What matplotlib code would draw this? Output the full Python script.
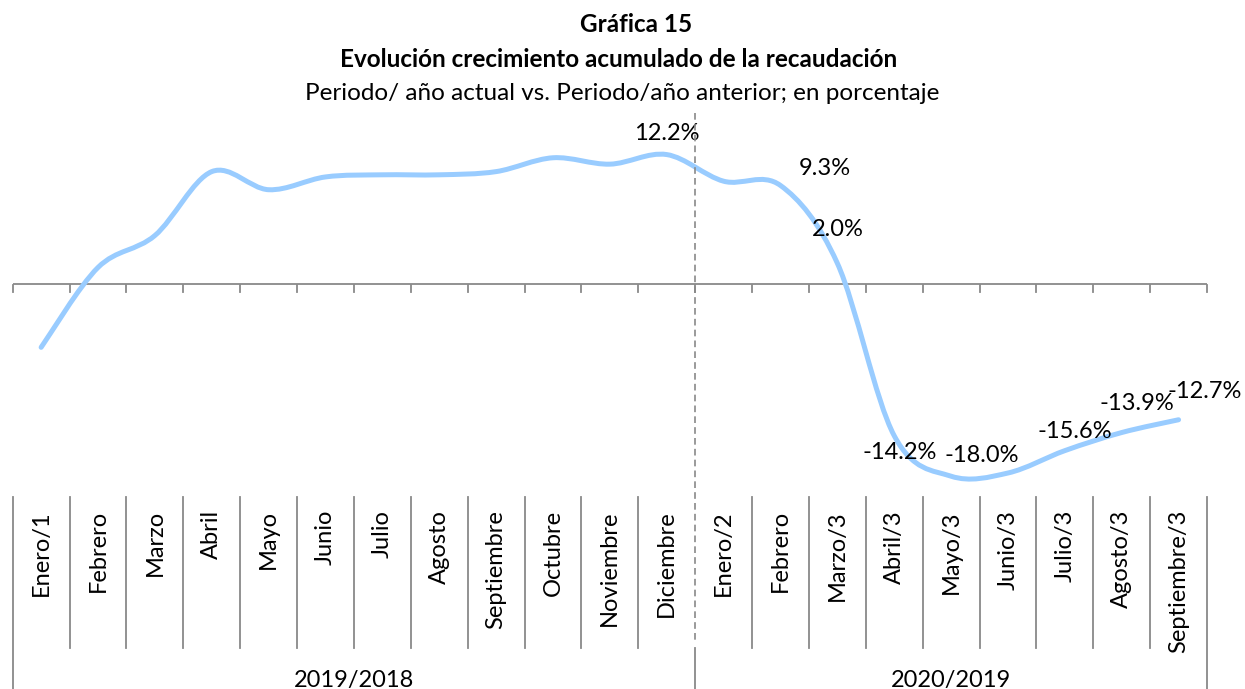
import matplotlib.pyplot as plt
import matplotlib.transforms as mtransforms
from matplotlib.path import Path
from matplotlib.patches import PathPatch
from matplotlib.lines import Line2D
import numpy as np

plt.rcParams['font.family'] = ['Lato', 'DejaVu Sans']

# datos
meses = ['Enero/1', 'Febrero', 'Marzo', 'Abril', 'Mayo', 'Junio', 'Julio',
         'Agosto', 'Septiembre', 'Octubre', 'Noviembre', 'Diciembre',
         'Enero/2', 'Febrero', 'Marzo/3', 'Abril/3', 'Mayo/3', 'Junio/3',
         'Julio/3', 'Agosto/3', 'Septiembre/3']
valores = [-5.9, 1.6, 4.6, 10.6, 8.9, 10.1, 10.3, 10.3, 10.6, 11.9, 11.3, 12.2,
           9.7, 9.3, 2.0, -14.2, -18.0, -17.7, -15.6, -13.9, -12.7]
periodos = ['2019/2018', '2020/2019']
n_periodo = [12, 9]
con_etiqueta = [11, 13, 14, 15, 16, 18, 19, 20]

# desplazamiento de las etiquetas (puntos)
desp = [(0, 15), (32, 12), (0, 24), (4, -12), (22, 15), (7, 14), (11, 21), (19, 20)]

W, H = 1245, 689
fig = plt.figure(figsize=(W / 100, H / 100), dpi=100)


def fx(px):
    return px / W


def fy(py):
    return 1 - py / H


x0, x1, ytop, ybot, y0, esc = 12.7, 1207, 113, 497, 284.5, 10.65
ax = fig.add_axes([fx(x0), fy(ybot), fx(x1) - fx(x0), (ybot - ytop) / H])
ax.axis('off')
tr = mtransforms.blended_transform_factory(ax.transData, fig.transFigure)

gris = '#898989'
n = len(valores)

# linea suavizada (bezier)
pts = np.column_stack([np.arange(n), valores])
verts = [pts[0]]
codes = [Path.MOVETO]
for i in range(n - 1):
    p0 = pts[max(i - 1, 0)]
    p1 = pts[i]
    p2 = pts[i + 1]
    p3 = pts[min(i + 2, n - 1)]
    verts += [p1 + (p2 - p0) / 6, p2 - (p3 - p1) / 6, p2]
    codes += [Path.CURVE4] * 3
ax.add_patch(PathPatch(Path(verts, codes), fill=False, edgecolor='#99CCFF',
                       lw=3.6, capstyle='round', zorder=3))

ax.axhline(0, color=gris, lw=1.3, zorder=2)
ax.set_xlim(-0.5, n - 0.5)
ax.set_ylim(-(ybot - y0) / esc, (y0 - ytop) / esc)

# marcas del eje
for b in np.arange(-0.5, n, 1):
    fig.add_artist(Line2D([b, b], [fy(y0), fy(y0 + 7)], transform=tr, color=gris, lw=1.3))

# tabla de categorias
limites = [-0.5, 11.5, n - 0.5]
for b in np.arange(0.5, n - 1, 1):
    if b not in limites:
        fig.add_artist(Line2D([b, b], [fy(497), fy(648)], transform=tr, color=gris, lw=1.3))
for b in [-0.5, n - 0.5]:
    fig.add_artist(Line2D([b, b], [fy(497), fy(H)], transform=tr, color=gris, lw=1.3))
fig.add_artist(Line2D([11.5, 11.5], [fy(648), fy(H)], transform=tr, color=gris, lw=1.3))
fig.add_artist(Line2D([11.5, 11.5], [fy(ytop), fy(643)], transform=tr, color=gris,
                      lw=1.2, linestyle=(0, (4, 2.5))))

for i, m in enumerate(meses):
    ax.text(i, fy(510), m, transform=tr, rotation=90, ha='center', va='top', fontsize=17)

inicio = -0.5
for p, k in zip(periodos, n_periodo):
    ax.text(inicio + k / 2, fy(680), p, transform=tr, ha='center', va='center', fontsize=17)
    inicio += k

# etiquetas de datos
for i, d in zip(con_etiqueta, desp):
    ax.annotate(f'{valores[i]:.1f}%', (i, valores[i]), xytext=d, textcoords='offset points',
                ha='center', va='center', fontsize=17, zorder=4)

# titulos
fig.text(fx(636), fy(32), 'Gráfica 15', ha='center', va='baseline', fontsize=17.5, weight='bold')
fig.text(fx(619), fy(67), 'Evolución crecimiento acumulado de la recaudación', ha='center',
         va='baseline', fontsize=17.5, weight='bold')
fig.text(fx(622), fy(100), 'Periodo/ año actual vs. Periodo/año anterior; en porcentaje',
         ha='center', va='baseline', fontsize=17.5)

fig.savefig('out.png', dpi=100)
